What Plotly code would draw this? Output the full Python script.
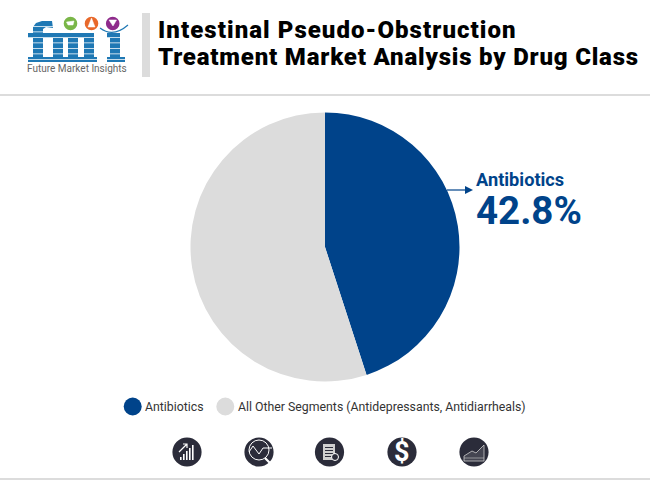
import plotly.graph_objects as go

categories = ["Antibiotics", "All Other Segments (Antidepressants, Antidiarrheals)"]
drawn_shares = [45.0, 55.0]
colors = ["#00438a", "#dcdcdc"]
callout_label = "Antibiotics"
callout_value = "42.8%"
title_lines = ["Intestinal Pseudo-Obstruction", "Treatment Market Analysis by Drug Class"]
logo_caption = "Future Market Insights"

W, H = 650, 480
BLUE = "#1f78b4"
DARK = "#2b2c3a"
shapes, annos = [], []

def rect(x0, y0, x1, y1, color):
    shapes.append(dict(type="rect", xref="x", yref="y", x0=x0, y0=y0, x1=x1, y1=y1,
                       fillcolor=color, line=dict(width=0)))

def circle(cx, cy, r, color, line=None):
    shapes.append(dict(type="circle", xref="x", yref="y", x0=cx-r, y0=cy-r, x1=cx+r, y1=cy+r,
                       fillcolor=color, line=line or dict(width=0)))

def path(d, fill="rgba(0,0,0,0)", color="#ffffff", width=1.0):
    shapes.append(dict(type="path", xref="x", yref="y", path=d, fillcolor=fill,
                       line=dict(color=color, width=width)))

def poly(pts, color):
    d = "M" + " L".join(f"{x},{y}" for x, y in pts) + " Z"
    shapes.append(dict(type="path", xref="x", yref="y", path=d, fillcolor=color, line=dict(width=0)))

def text(x, y, s, size, color, anchor="left", family="Roboto", weight=None):
    font = dict(family=family, size=size, color=color)
    if weight:
        font["weight"] = weight
    annos.append(dict(xref="x", yref="y", x=x, y=y, text=s, showarrow=False, xanchor=anchor,
                      yanchor="middle", align=anchor, font=font, borderpad=0, borderwidth=0))

# frame lines
rect(0, 94, W, 96, "#dcdcdc")
rect(0, 478, W, 480, "#dcdcdc")
rect(142, 13, 150, 77, "#dcdcdc")

# logo letters
poly([(33,33),(33,27),(36,23),(42,21),(52,21),(53,28),(46,27),(43,29),(43,33),(50,33),(50,38),(43,38),(43,57),(48,57),(48,62),(28,62),(28,57),(33,57),(33,38),(28,38),(28,33)], BLUE)
rect(48, 33, 93, 38, BLUE)
rect(53, 33, 63, 62, BLUE)
rect(68, 33, 78, 62, BLUE)
rect(84, 33, 94, 62, BLUE)
rect(48, 57, 66, 62, BLUE)
rect(66, 57, 81, 62, BLUE)
rect(81, 57, 97, 62, BLUE)
rect(107, 33, 120, 38, BLUE)
rect(110, 33, 120, 62, BLUE)
rect(107, 57, 125, 62, BLUE)
for y in (26, 31.5, 37, 42.5, 48, 53.5, 59):
    rect(26, y, 127, y + 0.7, "#ffffff")
circle(70.5, 23.5, 6.8, "#7ab648")
circle(91.5, 23.5, 6.8, "#e8682a")
circle(112.7, 23.5, 6.8, "#8e2a8b")
path("M 66.5,22 L 74,21 L 73,25 L 68,25 Z", "#ffffff", "#ffffff", 0.5)
path("M 91.5,18 L 95,27 L 88,27 Z", "#ffffff", "#ffffff", 0.5)
path("M 109,20 L 116.5,20 L 113,26 Z", "#ffffff", "#ffffff", 0.5)
path("M 100,28 Q 113,38 128,25", color=BLUE, width=1.2)
text(26.5, 68, logo_caption, 10, "#666666")

# title
text(158, 30, title_lines[0], 24, "#000000", weight=900)
text(158, 57, title_lines[1], 24, "#000000", weight=900)

# callout
rect(447, 189.4, 466, 190.6, colors[0])
poly([(465,186),(473,190),(465,194)], colors[0])
text(475.5, 179, callout_label, 18.2, colors[0], weight=700)
text(475.5, 210, callout_value, 38.5, colors[0], weight=700)

# legend
circle(132.7, 406.5, 9, colors[0])
text(145, 406.5, categories[0], 12.3, "#333333")
circle(225.3, 406.5, 9, colors[1])
text(238, 406.5, categories[1], 12.3, "#333333")

# icons
for cx in (187, 259, 329.5, 402, 474):
    circle(cx, 452, 14.6, DARK)
# bars icon
for i, h in enumerate((3, 6, 9, 12, 15)):
    rect(180 + i * 3, 460 - h, 181.6 + i * 3, 460, "#ffffff")
path("M 179,452 L 187,444 M 183,444 L 187,444 L 187,448", width=1.2)
# search icon
circle(259, 450, 10, "rgba(0,0,0,0)", dict(color="#ffffff", width=1))
path("M 249,452 L 253,446 L 259,454 L 263,448 L 272,448", width=1)
path("M 265,458 L 271,464", width=2.2)
# document icon
rect(323, 444, 335, 460, "#cfcfcf")
for y in (447, 450, 453, 456):
    rect(325, y, 333, y + 1, DARK)
circle(335, 457, 3.5, DARK, dict(color="#ffffff", width=1))
# chart icon
path("M 464,461 L 464,456 L 472,451 L 476,453 L 484,445 L 484,461 Z", "rgba(255,255,255,0.12)", "#cccccc", 0.8)
path("M 464,458 L 484,458", color="#cccccc", width=0.6)
# dollar
text(402, 452, "$", 27, "#ffffff", "center", weight=700)

pie = go.Pie(labels=categories, values=drawn_shares, sort=False, direction="clockwise", rotation=0,
             marker=dict(colors=colors, line=dict(width=0)), textinfo="none", hoverinfo="label+percent",
             showlegend=False,
             domain=dict(x=[190.5/W, 459.5/W], y=[1-382/H, 1-112/H]))

fig = go.Figure(pie)
fig.update_layout(width=W, height=H, margin=dict(l=0, r=0, t=0, b=0), autosize=False,
                  paper_bgcolor="#ffffff", plot_bgcolor="#ffffff",
                  xaxis=dict(range=[0, W], visible=False, domain=[0, 1], fixedrange=True),
                  yaxis=dict(range=[H, 0], visible=False, domain=[0, 1], fixedrange=True),
                  shapes=shapes, annotations=annos, showlegend=False)
fig.add_trace(go.Scatter(x=[], y=[], xaxis="x", yaxis="y", showlegend=False))
post = """
document.body.style.margin='0';
document.documentElement.style.overflow='hidden';
document.querySelectorAll('.annotation-text').forEach(function(t){
  if (t.textContent.startsWith('Intestinal')) t.style.letterSpacing='1.05px';
  if (t.textContent.startsWith('Treatment')) t.style.letterSpacing='0.8px';
});
"""
fig.write_html("out.html", config=dict(displayModeBar=False), post_script=post)
